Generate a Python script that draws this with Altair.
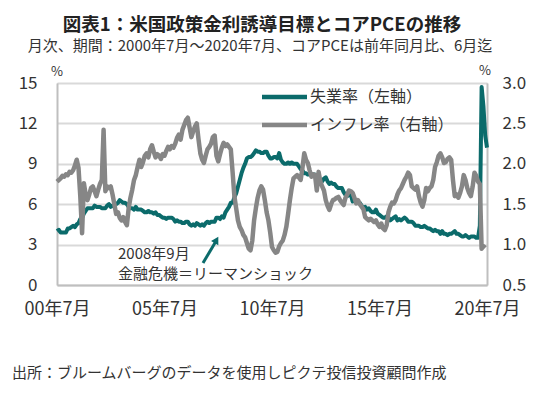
import altair as alt
import pandas as pd

# ---------------- data ----------------
start_month = "2000-07"
series_names = ["失業率（左軸）", "インフレ率（右軸）"]
series_colors = ["#0b6b6b", "#868686"]
x_tick_positions = [0, 60, 120, 180, 240]
x_tick_labels = ["00年7月", "05年7月", "10年7月", "15年7月", "20年7月"]
left_ticks = [0, 3, 6, 9, 12, 15]
right_ticks = [0.5, 1.0, 1.5, 2.0, 2.5, 3.0]

# unemployment rate, monthly 2000-07 .. 2020-07 (%)
unemployment = [
    4.0, 4.1, 3.9, 3.9, 3.9, 3.9,
    4.2, 4.2, 4.3, 4.4, 4.3, 4.5, 4.6, 4.9, 5.0, 5.3, 5.5, 5.7,
    5.7, 5.7, 5.7, 5.9, 5.8, 5.8, 5.8, 5.7, 5.7, 5.7, 5.9, 6.0,
    5.8, 5.9, 5.9, 6.0, 6.1, 6.3, 6.2, 6.1, 6.1, 6.0, 5.8, 5.7,
    5.7, 5.6, 5.8, 5.6, 5.6, 5.6, 5.5, 5.4, 5.4, 5.5, 5.4, 5.4,
    5.3, 5.4, 5.2, 5.2, 5.1, 5.0, 5.0, 4.9, 5.0, 5.0, 5.0, 4.9,
    4.7, 4.8, 4.7, 4.7, 4.6, 4.6, 4.7, 4.7, 4.5, 4.4, 4.5, 4.4,
    4.6, 4.5, 4.4, 4.5, 4.4, 4.6, 4.7, 4.6, 4.7, 4.7, 4.7, 5.0,
    5.0, 4.9, 5.1, 5.0, 5.4, 5.6, 5.8, 6.1, 6.1, 6.5, 6.8, 7.3,
    7.8, 8.3, 8.7, 9.0, 9.4, 9.5, 9.5, 9.6, 9.8, 10.0, 9.9, 9.9,
    9.8, 9.8, 9.9, 9.9, 9.6, 9.4, 9.4, 9.5, 9.5, 9.4, 9.8, 9.3,
    9.1, 9.0, 9.0, 9.1, 9.0, 9.1, 9.0, 9.0, 9.0, 8.8, 8.6, 8.5,
    8.3, 8.3, 8.2, 8.2, 8.2, 8.2, 8.2, 8.1, 7.8, 7.8, 7.7, 7.9,
    8.0, 7.7, 7.5, 7.6, 7.5, 7.5, 7.3, 7.2, 7.2, 7.2, 6.9, 6.7,
    6.6, 6.7, 6.7, 6.2, 6.3, 6.1, 6.2, 6.1, 5.9, 5.7, 5.8, 5.6,
    5.7, 5.5, 5.4, 5.4, 5.6, 5.3, 5.2, 5.1, 5.0, 5.0, 5.1, 5.0,
    4.8, 4.9, 5.0, 5.1, 4.8, 4.9, 4.8, 4.9, 5.0, 4.9, 4.7, 4.7,
    4.7, 4.6, 4.4, 4.4, 4.4, 4.3, 4.3, 4.4, 4.3, 4.2, 4.2, 4.1,
    4.0, 4.1, 4.0, 4.0, 3.8, 4.0, 3.8, 3.8, 3.7, 3.8, 3.8, 3.9,
    4.0, 3.8, 3.8, 3.7, 3.6, 3.6, 3.7, 3.6, 3.5, 3.6, 3.6, 3.6,
    3.5, 3.5, 4.4, 14.7, 13.3, 11.1, 10.2,
]

# core PCE inflation (y/y %), monthly 2000-07 .. 2020-06
inflation = [
    1.78, 1.80, 1.82, 1.85, 1.84, 1.87,
    1.86, 1.90, 1.89, 1.92, 1.98, 2.05, 1.95, 1.60, 1.14, 1.76, 1.62, 1.55,
    1.62, 1.70, 1.72, 1.66, 1.60, 1.68, 1.75, 1.80, 2.42, 1.66, 1.72, 1.70,
    1.72, 1.62, 1.50, 1.38, 1.40, 1.33, 1.30, 1.34, 1.28, 1.24, 1.45, 1.58,
    1.68, 1.80, 1.86, 1.96, 2.05, 1.96, 2.02, 2.10, 2.13, 2.08, 2.18, 2.23,
    2.15, 2.08, 2.12, 2.10, 2.06, 2.12, 2.10, 2.16, 2.21, 2.18, 2.22, 2.20,
    2.25, 2.32, 2.36, 2.30, 2.42, 2.48, 2.54, 2.57, 2.45, 2.33, 2.40, 2.46,
    2.50, 2.30, 2.13, 2.05, 2.01, 2.10, 2.18, 2.21, 2.25, 2.33, 2.35, 2.10,
    2.03, 2.12, 2.20, 2.26, 2.22, 2.24, 2.21, 2.18, 1.90, 1.60, 1.45, 1.30,
    1.22, 1.18, 1.12, 1.09, 1.02, 0.95, 0.93, 1.05, 1.30, 1.45, 1.58, 1.67,
    1.72, 1.68, 1.55, 1.40, 1.30, 1.15, 0.97, 0.93, 0.90, 0.91, 0.98, 1.02,
    1.05, 1.12, 1.22, 1.38, 1.55, 1.70, 1.82, 1.84, 1.86, 1.83, 1.80, 1.95,
    2.13, 2.05, 2.01, 1.92, 1.84, 1.87, 1.86, 1.67, 1.90, 1.78, 1.72, 1.67,
    1.55, 1.48, 1.43, 1.50, 1.55, 1.56, 1.58, 1.59, 1.55, 1.52, 1.49, 1.58,
    1.62, 1.67, 1.66, 1.64, 1.58, 1.51, 1.55, 1.50, 1.47, 1.44, 1.34, 1.32,
    1.30, 1.32, 1.30, 1.28, 1.30, 1.25, 1.22, 1.26, 1.20, 1.18, 1.24, 1.40,
    1.47, 1.52, 1.51, 1.55, 1.62, 1.67, 1.70, 1.75, 1.80, 1.84, 1.89, 1.86,
    1.72, 1.70, 1.68, 1.72, 1.60, 1.52, 1.47, 1.55, 1.70, 1.66, 1.70, 1.72,
    1.80, 1.96, 2.02, 2.10, 2.13, 2.08, 2.01, 2.02, 2.06, 2.08, 2.05, 1.80,
    1.60, 1.62, 1.58, 1.64, 1.72, 1.86, 1.80, 1.70, 1.64, 1.60, 1.72, 1.89,
    1.85, 1.78, 1.75, 0.95, 0.98, 0.96,
]

title_text = "図表1：米国政策金利誘導目標とコアPCEの推移"
subtitle_text = "月次、期間：2000年7月～2020年7月、コアPCEは前年同月比、6月迄"
footer_text = "出所：ブルームバーグのデータを使用しピクテ投信投資顧問作成"
annot_line1 = "2008年9月"
annot_line2 = "金融危機＝リーマンショック"

# ---------------- frames ----------------
months_u = pd.period_range(start_month, periods=len(unemployment), freq="M").astype(str)
months_i = pd.period_range(start_month, periods=len(inflation), freq="M").astype(str)
df_u = pd.DataFrame({"m": range(len(unemployment)), "month": months_u,
                     "v": unemployment, "s": series_names[0]})
df_i = pd.DataFrame({"m": range(len(inflation)), "month": months_i,
                     "v": inflation, "s": series_names[1]})

FONT = "Noto Sans CJK JP"
TXT = "#333333"
W, H = 430, 202

label_expr = "[" + ",".join("'%s'" % s for s in x_tick_labels) + "][round(datum.value/60)]"

x_enc = alt.X("m:Q", scale=alt.Scale(domain=[0, 240], nice=False, zero=False),
              axis=alt.Axis(values=x_tick_positions, labelExpr=label_expr, title=None,
                            grid=False, ticks=False, labelFontSize=18, labelPadding=15,
                            labelFont=FONT, labelColor=TXT, domainColor="#bfbfbf",
                            domainWidth=2, labelFlush=False))

color_enc = alt.Color("s:N", scale=alt.Scale(domain=series_names, range=series_colors),
                      legend=None)

line_u = alt.Chart(df_u).mark_line(strokeWidth=4, strokeJoin="round").encode(
    x=x_enc,
    y=alt.Y("v:Q", scale=alt.Scale(domain=[0, 15], nice=False),
            axis=alt.Axis(values=left_ticks, title=None, ticks=False, labelFontSize=17,
                          labelPadding=20, labelFont=FONT, labelColor=TXT,
                          domainColor="#bfbfbf", domainWidth=2, gridColor="#d9d9d9",
                          gridWidth=2)),
    color=color_enc,
)

line_i = alt.Chart(df_i).mark_line(strokeWidth=4.5, strokeJoin="round").encode(
    x=x_enc,
    y=alt.Y("v:Q", scale=alt.Scale(domain=[0.5, 3.0], nice=False, zero=False),
            axis=alt.Axis(values=right_ticks, orient="right", format=".1f", title=None,
                          ticks=False, grid=False, labelFontSize=17, labelPadding=15,
                          labelFont=FONT, labelColor=TXT, domainColor="#bfbfbf",
                          domainWidth=2)),
    color=color_enc,
)

lines = alt.layer(line_u, line_i).resolve_scale(y="independent")


def txt(text, x, y, size, align="left", weight="normal", color=TXT):
    return alt.Chart(pd.DataFrame({"t": [text]})).mark_text(
        align=align, baseline="middle", fontSize=size, font=FONT,
        fontWeight=weight, color=color
    ).encode(text="t:N", x=alt.value(x), y=alt.value(y))


def seg(x1, y1, x2, y2, color, width):
    return alt.Chart(pd.DataFrame({"a": [0]})).mark_rule(
        color=color, strokeWidth=width
    ).encode(x=alt.value(x1), y=alt.value(y1), x2=alt.value(x2), y2=alt.value(y2))


texts = [
    txt(title_text, 205, -58, 18.5, align="center", weight="bold", color="#222222"),
    txt(subtitle_text, 203, -37, 15, align="center"),
    txt("%", 0, -11, 13, align="center"),
    txt("%", 428, -12, 13, align="center"),
    txt(annot_line1, 61, 171, 15),
    txt(annot_line2, 61, 191, 15),
    txt(footer_text, -45, 290, 15),
]

# manual legend (line sample + label)
legend_parts = [
    seg(205, 14, 250, 14, series_colors[0], 4.5),
    seg(205, 42, 250, 42, series_colors[1], 4.5),
    txt(series_names[0], 253, 14, 16),
    txt(series_names[1], 253, 42, 16),
]

arrow_shaft = seg(146, 180, 158.5, 159, series_colors[0], 3)

arrow_head = alt.Chart(pd.DataFrame({"a": [0]})).mark_point(
    shape="triangle-up", filled=True, size=70, angle=30, opacity=1,
    color=series_colors[0]
).encode(x=alt.value(159.5), y=alt.value(157))

chart = alt.layer(lines, arrow_shaft, arrow_head, *legend_parts, *texts).properties(
    width=W, height=H,
    autosize=alt.AutoSizeParams(type="none"),
    padding={"left": 49, "top": 75, "right": 45, "bottom": 100},
).configure_view(stroke=None).configure(background="white")

chart.save("out.html", embed_options={"renderer": "svg", "actions": False})
